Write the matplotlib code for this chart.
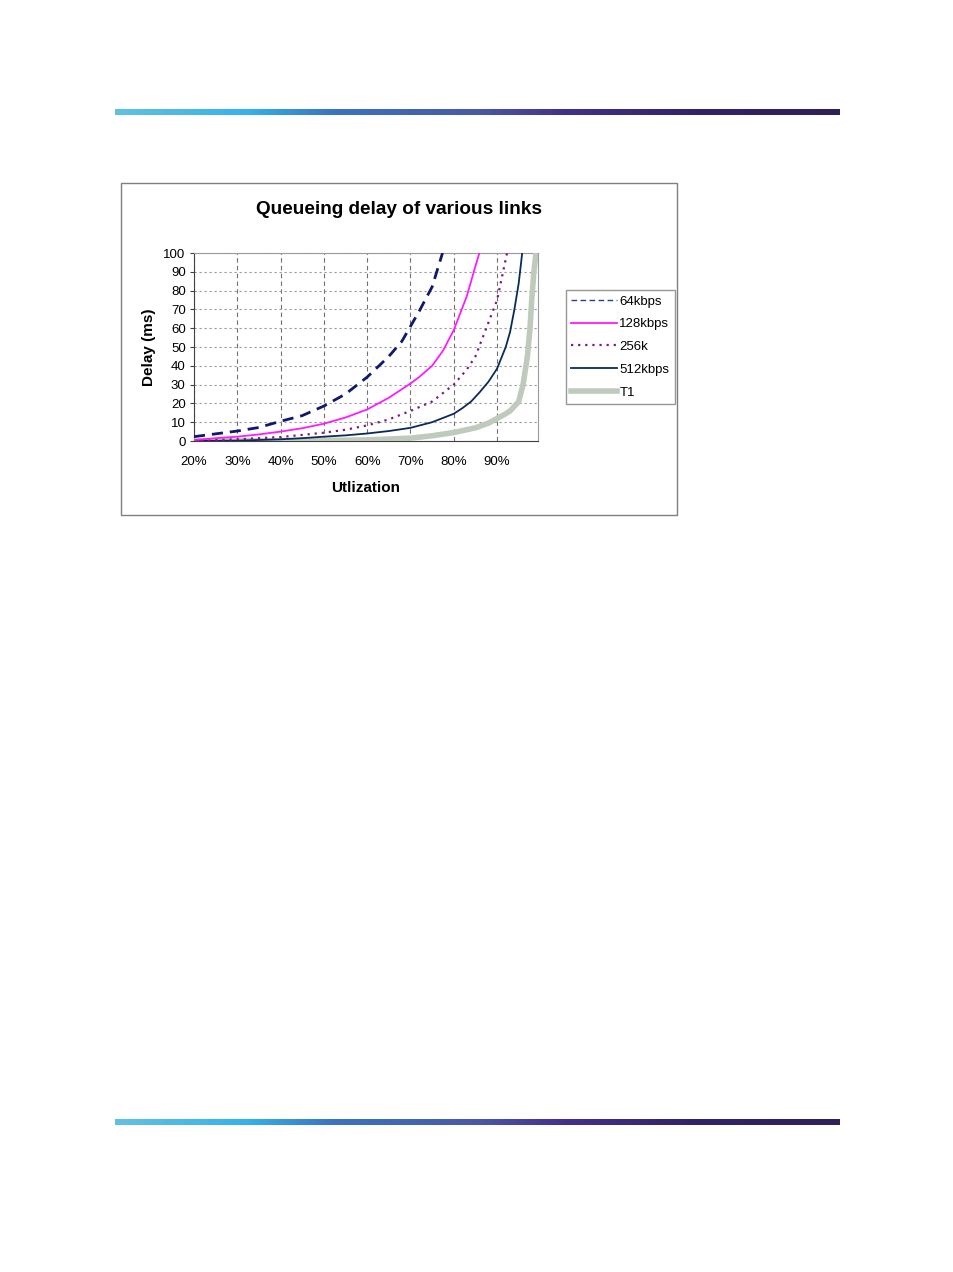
import matplotlib.pyplot as plt
import numpy as np
from matplotlib.colors import LinearSegmentedColormap
from matplotlib.patches import Rectangle
from matplotlib.lines import Line2D

plt.rcParams['font.family'] = ['Liberation Sans', 'DejaVu Sans']

# utilization (fraction) and delay (ms)
u64 = [0.20, 0.25, 0.30, 0.35, 0.40, 0.45, 0.50, 0.55, 0.60, 0.65, 0.68, 0.70, 0.72, 0.75, 0.774]
d64 = [2.3, 3.8, 5.3, 7.2, 10.5, 13.5, 18.6, 25, 34, 45, 53, 61, 69, 82, 100]

u128 = [0.20, 0.25, 0.30, 0.35, 0.40, 0.45, 0.50, 0.55, 0.60, 0.65, 0.70, 0.72, 0.75, 0.775, 0.80, 0.83, 0.85, 0.859]
d128 = [0.5, 1.5, 2.3, 3.5, 5.0, 6.8, 9.2, 12.5, 16.8, 23, 30.6, 34, 40, 48, 59, 77, 93, 100]

u256 = [0.20, 0.30, 0.40, 0.50, 0.55, 0.60, 0.65, 0.70, 0.75, 0.80, 0.83, 0.85, 0.88, 0.90, 0.923]
d256 = [0.0, 0.9, 2.1, 4.4, 6.0, 8.3, 11.5, 16, 21, 30, 38, 45, 63, 75, 100]

u512 = [0.20, 0.30, 0.40, 0.45, 0.50, 0.55, 0.60, 0.65, 0.70, 0.75, 0.80, 0.82, 0.84, 0.86, 0.88, 0.90, 0.92, 0.93, 0.94, 0.95, 0.958]
d512 = [0.0, 0.2, 0.9, 1.5, 2.3, 3.0, 4.0, 5.3, 7.0, 10, 14.5, 17.5, 21, 26, 31.5, 38.5, 50, 58, 70, 84, 100]

uT1 = [0.20, 0.40, 0.50, 0.60, 0.70, 0.75, 0.80, 0.85, 0.88, 0.90, 0.92, 0.93, 0.95, 0.96, 0.97, 0.976, 0.98, 0.985, 0.99]
dT1 = [0.0, 0.1, 0.3, 0.6, 1.5, 2.8, 4.5, 7.0, 9.5, 12, 14.5, 16, 21, 30, 45, 60, 75, 90, 100]

x_ticks = [0.2, 0.3, 0.4, 0.5, 0.6, 0.7, 0.8, 0.9]
x_labels = ['20%', '30%', '40%', '50%', '60%', '70%', '80%', '90%']
y_ticks = list(range(0, 101, 10))

W, H = 954, 1272
fig = plt.figure(figsize=(W / 100, H / 100), dpi=100)

# decorative gradient bars (top and bottom)
bar_cmap = LinearSegmentedColormap.from_list('bar', [
    (0.0, '#62c0e4'), (0.18, '#36b2ea'), (0.30, '#3a74c0'),
    (0.50, '#4a58a8'), (0.62, '#43308e'), (0.80, '#33226a'), (1.0, '#302058')])
grad = np.linspace(0, 1, 512).reshape(1, -1)
for ytop in (109, 1119):
    bax = fig.add_axes([115 / W, 1 - (ytop + 6) / H, 725 / W, 6 / H])
    bax.imshow(grad, aspect='auto', cmap=bar_cmap)
    bax.axis('off')

# chart frame
fig.patches.append(Rectangle((121 / W, 1 - 515 / H), 556 / W, 332 / H,
                             transform=fig.transFigure, fill=False,
                             edgecolor='#7f7f7f', lw=1.0))

ax = fig.add_axes([194 / W, 1 - 441 / H, 344 / W, 188 / H])

ax.plot(uT1, dT1, color='#bfcabd', lw=4.0, solid_capstyle='butt', zorder=3)
ax.plot(u512, d512, color='#0b2a5c', lw=1.3, zorder=4)
ax.plot(u256, d256, color='#7d1a7d', lw=1.6, ls=(0, (1, 2.2)), zorder=4)
ax.plot(u128, d128, color='#ff1aff', lw=1.3, zorder=4)
ax.plot(u64, d64, color='#10186e', lw=2.0, ls=(0, (4, 2.5)), zorder=4)

ax.set_xlim(0.2, 0.9945)
ax.set_ylim(0, 100)
ax.set_xticks(x_ticks)
ax.set_xticklabels(x_labels)
ax.set_yticks(y_ticks)
ax.tick_params(labelsize=9.5, length=3, width=0.8, color='#404040', pad=3)
ax.tick_params(axis='x', length=0, pad=11)

ax.grid(axis='x', color='#707070', ls=(0, (4, 3)), lw=0.8)
ax.grid(axis='y', color='#9a9a9a', ls=(0, (2, 2.5)), lw=0.8)
ax.set_axisbelow(True)
for s in ('top', 'right'):
    ax.spines[s].set_color('#9a9a9a')
for s in ('left', 'bottom'):
    ax.spines[s].set_color('#404040')

ax.set_xlabel('Utlization', fontsize=11, fontweight='bold', labelpad=9)
ax.set_ylabel('Delay (ms)', fontsize=11, fontweight='bold', labelpad=5)

fig.text(399 / W, 1 - 210 / H, 'Queueing delay of various links',
         fontsize=13.7, fontweight='bold', ha='center', va='center')

handles = [
    Line2D([], [], color='#2a3a9a', lw=1.0, ls=(0, (4, 2.5))),
    Line2D([], [], color='#ff1aff', lw=1.3),
    Line2D([], [], color='#7d1a7d', lw=1.6, ls=(0, (1, 2.2))),
    Line2D([], [], color='#0b2a5c', lw=1.3),
    Line2D([], [], color='#bfcabd', lw=4.0),
]
leg = fig.legend(handles, ['64kbps', '128kbps', '256k', '512kbps', 'T1'],
                 loc='upper left', bbox_to_anchor=(566 / W, 1 - 290 / H),
                 fontsize=9.5, frameon=True, fancybox=False,
                 handlelength=3.5, handletextpad=0.15, labelspacing=0.8,
                 borderpad=0.4, borderaxespad=0)
leg.get_frame().set_edgecolor('#7f7f7f')
leg.get_frame().set_linewidth(1.0)

fig.savefig('out.png', dpi=100)
